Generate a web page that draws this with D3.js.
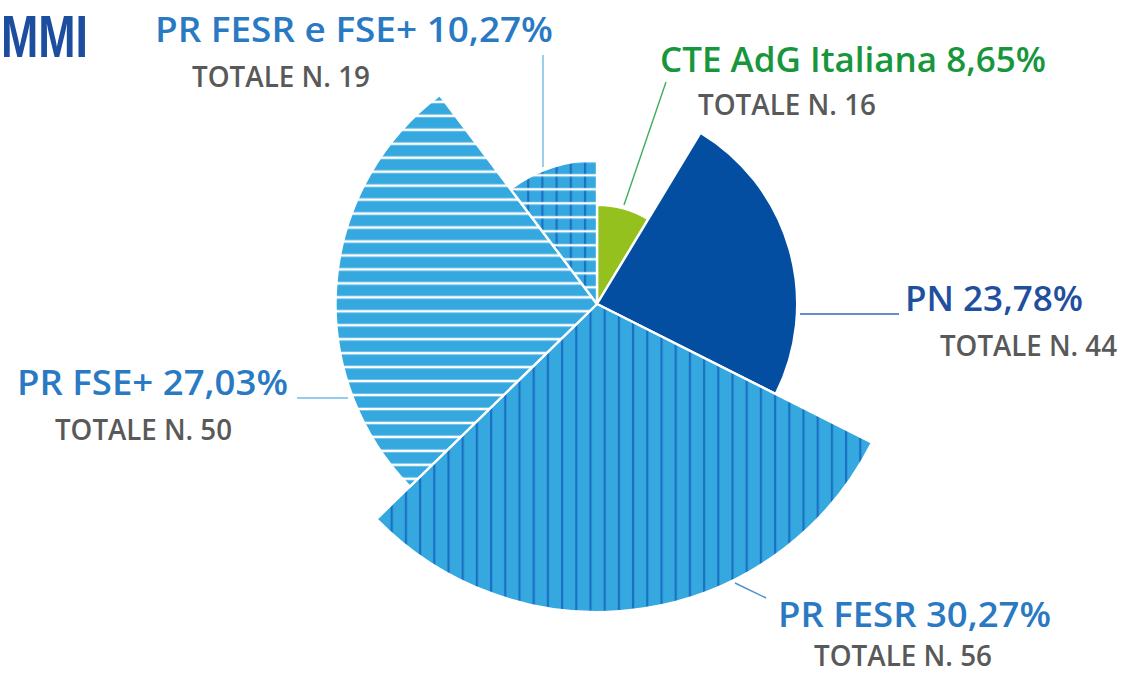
<!DOCTYPE html>
<html>
<head>
<meta charset="utf-8">
<script src="https://cdn.jsdelivr.net/npm/d3@7"></script>
<style>
  html, body { margin: 0; padding: 0; background: #ffffff; }
  svg { display: block; }
  text { font-family: "Open Sans", "Noto Sans", sans-serif; }
</style>
</head>
<body>
<svg id="chart" width="1145" height="673"></svg>
<script>
// ---- data ----
const categories = ["CTE AdG Italiana", "PN", "PR FESR", "PR FSE+", "PR FESR e FSE+"];
const percentLabels = ["8,65%", "23,78%", "30,27%", "27,03%", "10,27%"];
const percentValues = [8.65, 23.78, 30.27, 27.03, 10.27];
const totals = [16, 44, 56, 50, 19];
// relative outer radius of each slice (largest = 1)
const relRadius = [0.322, 0.650, 1.0, 0.849, 0.467];

// ---- layout / style ----
const W = 1145, H = 673;
const cx = 597, cy = 304;
const maxR = 308;
const svg = d3.select("#chart");

const fills = ["#95c11f", "#044ea1", "url(#patV)", "url(#patH)", "url(#patGrid)"];
const labelColors = ["#17963c", "#1f4f9f", "#2a79c3", "#2a79c3", "#2a79c3"];
const leaderColors = ["#3fae5c", "#2f68b8", "#4f8fcf", "#6fbbe6", "#6fbbe6"];
// label layout: title x, baseline y, width; total x, baseline y, width; leader line
const labelLayout = [
  { tx: 660, ty: 72, tw: 386, sx: 698, sy: 115, sw: 178, line: [[666, 82], [624, 205]] },
  { tx: 905, ty: 311, tw: 178, sx: 940, sy: 356, sw: 177, line: [[800, 314], [899, 314]] },
  { tx: 778, ty: 627, tw: 273, sx: 814, sy: 666, sw: 178, line: [[735, 583], [766, 598]] },
  { tx: 17, ty: 395, tw: 271, sx: 55, sy: 440, sw: 177, line: [[297, 398], [348, 398]] },
  { tx: 155, ty: 42, tw: 398, sx: 192, sy: 87, sw: 178, line: [[543, 55], [543, 167]] }
];

// ---- patterns ----
const defs = svg.append("defs");
const light = "#35a8df", darkLine = "#1a70c3";
// vertical dark lines (PR FESR)
const pV = defs.append("pattern").attr("id", "patV").attr("patternUnits", "userSpaceOnUse")
  .attr("width", 14.2).attr("height", 14).attr("patternTransform", "translate(391,0)");
pV.append("rect").attr("width", 14.2).attr("height", 14).attr("fill", light);
pV.append("rect").attr("x", -1).attr("width", 2.2).attr("height", 14).attr("fill", darkLine);
pV.append("rect").attr("x", 13.2).attr("width", 2.2).attr("height", 14).attr("fill", darkLine);
// horizontal white lines (PR FSE+)
const pH = defs.append("pattern").attr("id", "patH").attr("patternUnits", "userSpaceOnUse")
  .attr("width", 20).attr("height", 13.96).attr("patternTransform", "translate(0,105)");
pH.append("rect").attr("width", 20).attr("height", 13.96).attr("fill", light);
pH.append("rect").attr("y", -1.3).attr("width", 20).attr("height", 2.6).attr("fill", "#ffffff");
pH.append("rect").attr("y", 12.66).attr("width", 20).attr("height", 2.6).attr("fill", "#ffffff");
// grid (PR FESR e FSE+)
const pG = defs.append("pattern").attr("id", "patGrid").attr("patternUnits", "userSpaceOnUse")
  .attr("width", 14.2).attr("height", 14).attr("patternTransform", "translate(541.7,179.3)");
pG.append("rect").attr("width", 14.2).attr("height", 14).attr("fill", light);
pG.append("rect").attr("x", -1).attr("width", 2.2).attr("height", 14).attr("fill", darkLine);
pG.append("rect").attr("x", 13.2).attr("width", 2.2).attr("height", 14).attr("fill", darkLine);
pG.append("rect").attr("y", -1.2).attr("width", 14.2).attr("height", 2.4).attr("fill", "#ffffff");
pG.append("rect").attr("y", 12.8).attr("width", 14.2).attr("height", 2.4).attr("fill", "#ffffff");

// ---- pie ----
const rScale = d3.scaleLinear().domain([0, 1]).range([0, maxR]);
const pie = d3.pie().sort(null).value(d => d.value);
const rows = categories.map((c, i) => ({ cat: c, value: percentValues[i], rel: relRadius[i], i }));
const arcs = pie(rows);
const arc = d3.arc().innerRadius(0).outerRadius(d => rScale(d.data.rel));

const g = svg.append("g").attr("transform", `translate(${cx},${cy})`);
g.selectAll("path.slice").data(arcs).join("path")
  .attr("class", "slice")
  .attr("d", arc)
  .attr("fill", d => fills[d.data.i])
  .attr("stroke", "#ffffff")
  .attr("stroke-width", 2.4)
  .attr("stroke-linejoin", "round");

// ---- leader lines ----
svg.selectAll("line.leader").data(rows).join("line")
  .attr("class", "leader")
  .attr("x1", d => labelLayout[d.i].line[0][0])
  .attr("y1", d => labelLayout[d.i].line[0][1])
  .attr("x2", d => labelLayout[d.i].line[1][0])
  .attr("y2", d => labelLayout[d.i].line[1][1])
  .attr("stroke", d => leaderColors[d.i])
  .attr("stroke-width", 1.4);

// ---- labels ----
svg.selectAll("text.title").data(rows).join("text")
  .attr("class", "title")
  .attr("x", d => labelLayout[d.i].tx)
  .attr("y", d => labelLayout[d.i].ty)
  .attr("textLength", d => labelLayout[d.i].tw)
  .attr("lengthAdjust", "spacingAndGlyphs")
  .attr("font-size", 35)
  .attr("font-weight", 600)
  .attr("fill", d => labelColors[d.i])
  .text(d => `${d.cat} ${percentLabels[d.i]}`);

svg.selectAll("text.total").data(rows).join("text")
  .attr("class", "total")
  .attr("x", d => labelLayout[d.i].sx)
  .attr("y", d => labelLayout[d.i].sy)
  .attr("textLength", d => labelLayout[d.i].sw)
  .attr("lengthAdjust", "spacingAndGlyphs")
  .attr("font-size", 28)
  .attr("font-weight", 600)
  .attr("fill", "#595959")
  .text(d => `TOTALE N. ${totals[d.i]}`);

// page heading fragment
svg.append("text")
  .attr("x", 1).attr("y", 57)
  .attr("textLength", 87).attr("lengthAdjust", "spacingAndGlyphs")
  .style("font-family", "'Liberation Sans', Arial, sans-serif")
  .attr("font-size", 59).attr("font-weight", 700)
  .attr("fill", "#1c4d9e")
  .text("MMI");
</script>
</body>
</html>
